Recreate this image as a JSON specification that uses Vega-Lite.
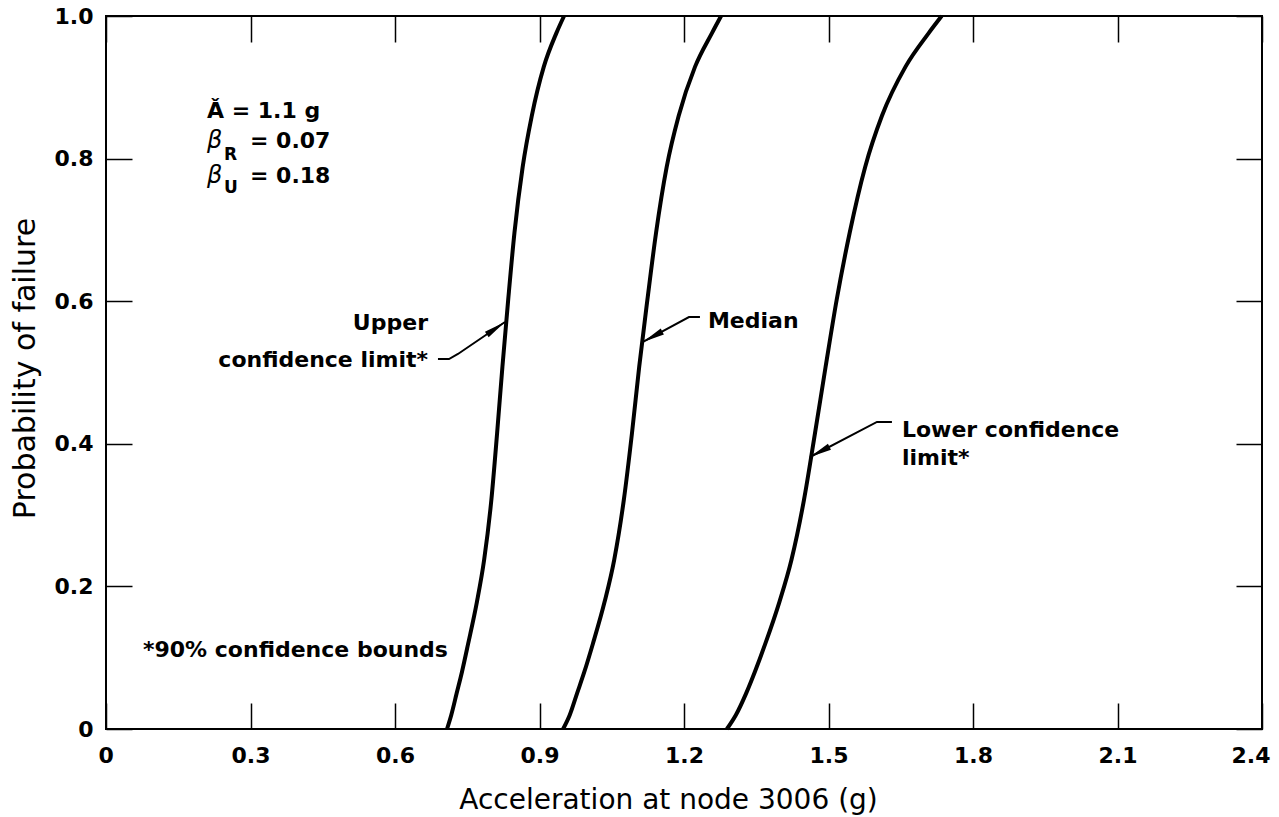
{
  "$schema": "https://vega.github.io/schema/vega-lite/v6.json",
  "autosize": "none",
  "width": 1156,
  "height": 713,
  "padding": {"left": 106, "top": 16, "right": 17, "bottom": 88},
  "background": "white",
  "config": {
    "view": {"stroke": "black", "strokeWidth": 2},
    "font": "DejaVu Sans",
    "axis": {"grid": false, "domain": false, "tickColor": "black", "tickWidth": 1.5, "labelColor": "black", "titleColor": "black", "labelFont": "DejaVu Sans", "titleFont": "DejaVu Sans"}
  },
  "datasets": {
    "curves": [
      {"series": "Upper", "v": 0.708, "p": 0},
      {"series": "Upper", "v": 0.717, "p": 0.02},
      {"series": "Upper", "v": 0.728, "p": 0.05},
      {"series": "Upper", "v": 0.739, "p": 0.08},
      {"series": "Upper", "v": 0.752, "p": 0.12},
      {"series": "Upper", "v": 0.77, "p": 0.178},
      {"series": "Upper", "v": 0.785, "p": 0.237},
      {"series": "Upper", "v": 0.8, "p": 0.321},
      {"series": "Upper", "v": 0.812, "p": 0.415},
      {"series": "Upper", "v": 0.823, "p": 0.508},
      {"series": "Upper", "v": 0.835, "p": 0.602},
      {"series": "Upper", "v": 0.848, "p": 0.696},
      {"series": "Upper", "v": 0.865, "p": 0.788},
      {"series": "Upper", "v": 0.884, "p": 0.86},
      {"series": "Upper", "v": 0.909, "p": 0.929},
      {"series": "Upper", "v": 0.935, "p": 0.976},
      {"series": "Upper", "v": 0.951, "p": 1.0},
      {"series": "Median", "v": 0.949, "p": 0},
      {"series": "Median", "v": 0.963, "p": 0.02},
      {"series": "Median", "v": 0.978, "p": 0.05},
      {"series": "Median", "v": 0.993, "p": 0.08},
      {"series": "Median", "v": 1.011, "p": 0.12},
      {"series": "Median", "v": 1.035, "p": 0.178},
      {"series": "Median", "v": 1.055, "p": 0.237},
      {"series": "Median", "v": 1.075, "p": 0.321},
      {"series": "Median", "v": 1.092, "p": 0.415},
      {"series": "Median", "v": 1.107, "p": 0.508},
      {"series": "Median", "v": 1.124, "p": 0.602},
      {"series": "Median", "v": 1.142, "p": 0.696},
      {"series": "Median", "v": 1.164, "p": 0.788},
      {"series": "Median", "v": 1.189, "p": 0.86},
      {"series": "Median", "v": 1.223, "p": 0.929},
      {"series": "Median", "v": 1.258, "p": 0.976},
      {"series": "Median", "v": 1.277, "p": 1.0},
      {"series": "Lower", "v": 1.289, "p": 0},
      {"series": "Lower", "v": 1.308, "p": 0.02},
      {"series": "Lower", "v": 1.329, "p": 0.05},
      {"series": "Lower", "v": 1.347, "p": 0.08},
      {"series": "Lower", "v": 1.369, "p": 0.12},
      {"series": "Lower", "v": 1.398, "p": 0.178},
      {"series": "Lower", "v": 1.423, "p": 0.237},
      {"series": "Lower", "v": 1.449, "p": 0.321},
      {"series": "Lower", "v": 1.472, "p": 0.415},
      {"series": "Lower", "v": 1.494, "p": 0.508},
      {"series": "Lower", "v": 1.517, "p": 0.602},
      {"series": "Lower", "v": 1.544, "p": 0.696},
      {"series": "Lower", "v": 1.576, "p": 0.788},
      {"series": "Lower", "v": 1.611, "p": 0.86},
      {"series": "Lower", "v": 1.66, "p": 0.929},
      {"series": "Lower", "v": 1.708, "p": 0.976},
      {"series": "Lower", "v": 1.735, "p": 1.0}
    ],
    "leaders": [
      {"leader": "Upper", "k": 1, "v": 0.6892, "p": 0.5189},
      {"leader": "Upper", "k": 2, "v": 0.7121, "p": 0.5189},
      {"leader": "Upper", "k": 3, "v": 0.7307, "p": 0.526},
      {"leader": "Upper", "k": 4, "v": 0.8283, "p": 0.5708},
      {"leader": "Median", "k": 1, "v": 1.2331, "p": 0.5778},
      {"leader": "Median", "k": 2, "v": 1.2103, "p": 0.5778},
      {"leader": "Median", "k": 3, "v": 1.1148, "p": 0.5428},
      {"leader": "Lower", "k": 1, "v": 1.6317, "p": 0.4306},
      {"leader": "Lower", "k": 2, "v": 1.6006, "p": 0.4306},
      {"leader": "Lower", "k": 3, "v": 1.4615, "p": 0.3815}
    ],
    "arrows": [
      {"leader": "Upper", "v": 0.8283, "p": 0.5708, "dir": 55.7},
      {"leader": "Median", "v": 1.1148, "p": 0.5428, "dir": 241.5},
      {"leader": "Lower", "v": 1.4615, "p": 0.3815, "dir": 242.4}
    ],
    "notesLeft": [
      {"text": "Ǎ = 1.1 g", "v": 0.2097, "p": 0.857},
      {"text": "= 0.07", "v": 0.299, "p": 0.8149},
      {"text": "= 0.18", "v": 0.299, "p": 0.7658},
      {"text": "*90% confidence bounds", "v": 0.0768, "p": 0.101},
      {"text": "Median", "v": 1.2497, "p": 0.5624},
      {"text": "Lower confidence", "v": 1.6525, "p": 0.4095},
      {"text": "limit*", "v": 1.6525, "p": 0.3703}
    ],
    "notesRight": [
      {"text": "Upper", "v": 0.6685, "p": 0.5596},
      {"text": "confidence limit*", "v": 0.6685, "p": 0.5077}
    ],
    "betas": [
      {"text": "β", "v": 0.2097, "p": 0.8149},
      {"text": "β", "v": 0.2097, "p": 0.7658}
    ],
    "subs": [
      {"text": "R", "v": 0.245, "p": 0.798},
      {"text": "U", "v": 0.245, "p": 0.7518}
    ]
  },
  "resolve": {"axis": {"x": "independent", "y": "independent"}},
  "layer": [
    {
      "data": {"name": "curves"},
      "mark": {"type": "line", "color": "black", "strokeWidth": 4, "interpolate": "monotone"},
      "encoding": {
        "x": {"field": "v", "type": "quantitative", "scale": {"domain": [0, 2.4], "nice": false, "zero": false},
          "axis": {"orient": "bottom", "values": [0, 0.3, 0.6, 0.9, 1.2, 1.5, 1.8, 2.1, 2.4], "format": ".1~f", "tickSize": -26, "labelPadding": 42, "labelFontSize": 22, "labelFontWeight": "bold", "labelFlush": true, "labelFlushOffset": 8,
            "title": "Acceleration at node 3006 (g)", "titleFontSize": 28, "titleFontWeight": "normal", "titlePadding": 20, "titleX": 562}},
        "y": {"field": "p", "type": "quantitative", "scale": {"domain": [0, 1], "nice": false},
          "axis": {"orient": "left", "values": [0, 0.2, 0.4, 0.6, 0.8, 1.0], "labelExpr": "datum.value == 0 ? '0' : format(datum.value, '.1f')", "tickSize": -26, "labelPadding": 39, "labelFontSize": 22, "labelFontWeight": "bold", "labelFlush": false,
            "title": "Probability of failure", "titleFontSize": 30, "titleFontWeight": "normal", "titlePadding": 14, "titleY": 352}},
        "detail": {"field": "series"}
      }
    },
    {
      "data": {"name": "leaders"},
      "mark": {"type": "line", "color": "black", "strokeWidth": 2},
      "encoding": {
        "x": {"field": "v", "type": "quantitative", "axis": {"orient": "top", "values": [0, 0.3, 0.6, 0.9, 1.2, 1.5, 1.8, 2.1, 2.4], "labels": false, "tickSize": -26, "title": null}},
        "y": {"field": "p", "type": "quantitative", "axis": {"orient": "right", "values": [0, 0.2, 0.4, 0.6, 0.8, 1.0], "labels": false, "tickSize": -26, "title": null}},
        "detail": {"field": "leader"},
        "order": {"field": "k"}
      }
    },
    {
      "data": {"name": "arrows"},
      "mark": {"type": "point", "shape": "M0,0L0.3,2L-0.3,2Z", "filled": true, "color": "black", "size": 484, "opacity": 1},
      "encoding": {
        "x": {"field": "v", "type": "quantitative", "axis": null},
        "y": {"field": "p", "type": "quantitative", "axis": null},
        "angle": {"field": "dir", "type": "quantitative", "scale": null}
      }
    },
    {
      "data": {"name": "notesLeft"},
      "mark": {"type": "text", "align": "left", "baseline": "alphabetic", "fontSize": 22, "fontWeight": "bold", "color": "black"},
      "encoding": {
        "x": {"field": "v", "type": "quantitative", "axis": null},
        "y": {"field": "p", "type": "quantitative", "axis": null},
        "text": {"field": "text"}
      }
    },
    {
      "data": {"name": "notesRight"},
      "mark": {"type": "text", "align": "right", "baseline": "alphabetic", "fontSize": 22, "fontWeight": "bold", "color": "black"},
      "encoding": {
        "x": {"field": "v", "type": "quantitative", "axis": null},
        "y": {"field": "p", "type": "quantitative", "axis": null},
        "text": {"field": "text"}
      }
    },
    {
      "data": {"name": "betas"},
      "mark": {"type": "text", "align": "left", "baseline": "alphabetic", "fontSize": 24, "fontStyle": "italic", "color": "black"},
      "encoding": {
        "x": {"field": "v", "type": "quantitative", "axis": null},
        "y": {"field": "p", "type": "quantitative", "axis": null},
        "text": {"field": "text"}
      }
    },
    {
      "data": {"name": "subs"},
      "mark": {"type": "text", "align": "left", "baseline": "alphabetic", "fontSize": 17, "fontWeight": "bold", "color": "black"},
      "encoding": {
        "x": {"field": "v", "type": "quantitative", "axis": null},
        "y": {"field": "p", "type": "quantitative", "axis": null},
        "text": {"field": "text"}
      }
    }
  ]
}
